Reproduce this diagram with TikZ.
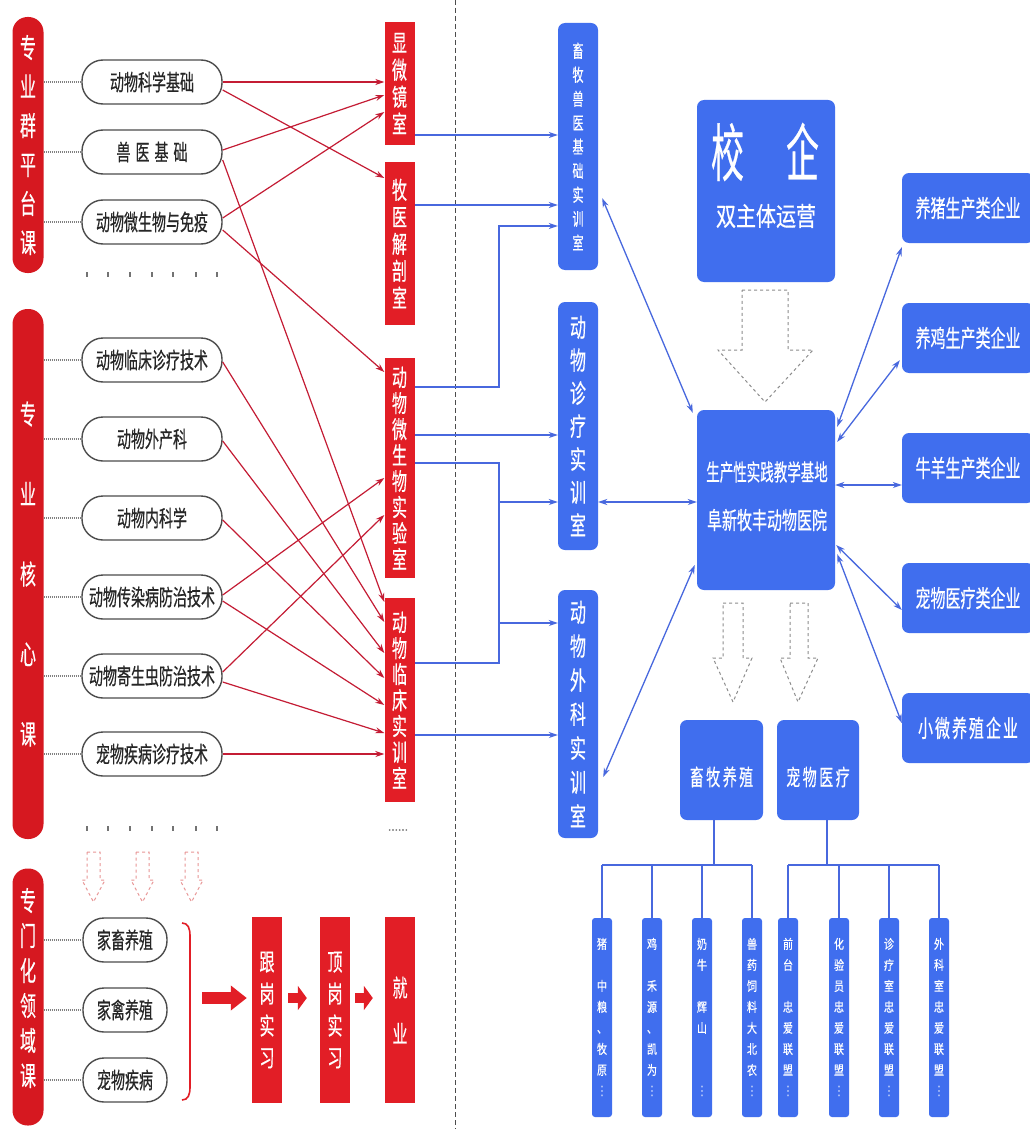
\documentclass[tikz,border=0pt]{standalone}
\usepackage{fontspec}
\usepackage{graphicx}
\setmainfont{Noto Sans CJK SC}[FakeBold=0.6]
\newfontfamily\dejavu{DejaVu Sans}
\usetikzlibrary{arrows.meta,calc}
\definecolor{pillred}{RGB}{214,24,32}
\definecolor{labred}{RGB}{226,30,38}
\definecolor{arrred}{RGB}{196,28,52}
\definecolor{boxblue}{RGB}{64,110,238}
\definecolor{lineblue}{RGB}{72,104,222}
\definecolor{pinkline}{RGB}{232,150,150}
\makeatletter
\def\vstretch{1.6}
\newcommand\stch[1]{\scalebox{1}[\vstretch]{#1}}
\newcommand\vdts{{\dejavu ⋮}}
\def\vt@gapmark{~}
\newcommand\vtext[1]{\def\vt@sep{}\@tfor\vt@c:=#1\do{\vt@sep\ifx\vt@c\vt@gapmark\mbox{}\else\stch{\vt@c}\fi\def\vt@sep{\\}}}
\makeatother
\begin{document}
\begin{tikzpicture}[x=1pt,y=-1pt,
 vt/.style n args={4}{font={\fontsize{#1}{#2}\selectfont\lineskiplimit=-100pt\def\vstretch{#4}}, align=center, text width=#3, inner sep=0pt},
 pill/.style={fill=pillred, rounded corners=15pt, minimum width=31pt, inner sep=0pt, text=white},
 course/.style={draw=black!70, line width=1.4pt, rounded corners=21pt, minimum height=44pt, inner sep=0pt, text=black!85, font=\fontsize{14}{16}\selectfont},
 lab/.style={fill=labred, minimum width=30pt, inner sep=0pt, text=white},
 bbox/.style={fill=boxblue, rounded corners=7pt, inner sep=0pt, text=white},
 leaf/.style={fill=boxblue, rounded corners=3pt, minimum width=20pt, minimum height=199pt, inner sep=0pt, text=white, vt={10}{21}{16pt}{1.3}},
 ent/.style={bbox, minimum width=132pt, minimum height=70pt, font=\fontsize{15}{18}\selectfont},
 txt/.style={inner sep=0pt},
 dotline/.style={draw=black!50, line width=1.8pt, dash pattern=on 1pt off 1pt},
 rarr/.style={draw=arrred, line width=1.2pt, -{Stealth[length=9pt,width=6pt]}},
 barr/.style={draw=lineblue, line width=1.3pt, -{Stealth[length=9pt,width=6pt]}},
 bline/.style={draw=lineblue, line width=1.3pt},
 bdarr/.style={draw=lineblue, line width=1.3pt, {Stealth[length=9pt,width=6pt]}-{Stealth[length=9pt,width=6pt]}},
 btree/.style={draw=lineblue, line width=2pt},
 hollow/.style={draw=black!45, dashed, line width=1pt},
 phollow/.style={draw=pinkline, dashed, line width=1pt},
]
\useasboundingbox (0,0) rectangle (1029,1129);
\fill[white] (0,0) rectangle (1029,1129);

% divider
\draw[black!70, line width=1pt, dash pattern=on 5pt off 3pt] (455,0) -- (455,1129);

% pills
\node[pill, minimum height=256pt, vt={16}{39}{28pt}{1.7}] (P1) at (28,145) {\vtext{专业群平台课}};
\node[pill, minimum height=530pt, vt={16}{80}{28pt}{1.7}] (P2) at (28,574) {\vtext{专业核心课}};
\node[pill, minimum height=257pt] (P3) at (28,997) {};
\node[txt, text=white, vt={16}{35}{28pt}{1.7}] (P3t) at (28,988) {\vtext{专门化领域课}};

% course boxes
\node[course, minimum width=140pt] (A1) at (152,82) {\stch{动物科学基础}};
\node[course, minimum width=140pt] (A2) at (152,152) {\stch{兽\hspace{5pt}医\hspace{5pt}基\hspace{5pt}础}};
\node[course, minimum width=140pt] (A3) at (152,222) {\stch{动物微生物与免疫}};
\node[course, minimum width=140pt] (B1) at (152,360) {\stch{动物临床诊疗技术}};
\node[course, minimum width=140pt] (B2) at (152,439) {\stch{动物外产科}};
\node[course, minimum width=140pt] (B3) at (152,518) {\stch{动物内科学}};
\node[course, minimum width=140pt] (B4) at (152,597) {\stch{动物传染病防治技术}};
\node[course, minimum width=140pt] (B5) at (152,676) {\stch{动物寄生虫防治技术}};
\node[course, minimum width=140pt] (B6) at (152,754) {\stch{宠物疾病诊疗技术}};
\node[course, minimum width=84pt] (C1) at (125,940) {\stch{家畜养殖}};
\node[course, minimum width=84pt] (C2) at (125,1010) {\stch{家禽养殖}};
\node[course, minimum width=84pt] (C3) at (125,1080) {\stch{宠物疾病}};

% dotted leaders
\foreach \n in {A1,A2,A3} \draw[dotline] (\n.west -| P1.east) -- (\n.west);
\foreach \n in {B1,B2,B3,B4,B5,B6} \draw[dotline] (\n.west -| P2.east) -- (\n.west);
\foreach \n in {C1,C2,C3} \draw[dotline] (\n.west -| P3.east) -- (\n.west);

% dot rows
\foreach \x in {87,108,130,152,173,196,217} {
  \fill[black!55] (\x-0.6,272) rectangle (\x+0.6,277);
  \fill[black!55] (\x-0.6,826) rectangle (\x+0.6,831);
}

% lab boxes
\node[lab, minimum height=123pt, vt={15}{27}{30pt}{1.6}] (R1) at (399.5,83.5) {\vtext{显微镜室}};
\node[lab, minimum height=163pt, vt={15}{27}{30pt}{1.6}] (R2) at (399.5,243.5) {\vtext{牧医解剖室}};
\node[lab, minimum height=220pt, vt={15}{26}{30pt}{1.6}] (R3) at (399.5,468) {\vtext{动物微生物实验室}};
\node[lab, minimum height=204pt, vt={15}{26}{30pt}{1.6}] (R4) at (399.5,700) {\vtext{动物临床实训室}};
\node[txt, text=black!55, font=\fontsize{12}{12}\selectfont] (more) at (398,830) {......};

% red arrows
\draw[rarr] (A1.east) -- (R1.west |- A1.east);
\draw[rarr] ($(A1.east)+(0,8)$) -- (R2.west |- 0,178);
\draw[rarr] ($(A2.east)+(0,-2)$) -- (R1.west |- 0,95);
\draw[rarr] ($(A2.east)+(0,8)$) -- (R4.west |- 0,602);
\draw[rarr] ($(A3.east)+(0,-4)$) -- (R1.west |- 0,112);
\draw[rarr] ($(A3.east)+(0,8)$) -- (R3.west |- 0,372);
\draw[rarr] ($(B1.east)+(0,2)$) -- (R4.west |- 0,622);
\draw[rarr] ($(B2.east)+(0,2)$) -- (R4.west |- 0,653);
\draw[rarr] ($(B3.east)+(0,2)$) -- (R4.west |- 0,678);
\draw[rarr] ($(B4.east)+(0,-2)$) -- (R3.west |- 0,478);
\draw[rarr] ($(B4.east)+(0,4)$) -- (R4.west |- 0,705);
\draw[rarr] ($(B5.east)+(0,-4)$) -- (R3.west |- 0,515);
\draw[rarr] ($(B5.east)+(0,6)$) -- (R4.west |- 0,733);
\draw[rarr] (B6.east) -- (R4.west |- B6.east);

% pink hollow arrows
\foreach \c in {93.5,142.5,191.5}
  \draw[phollow] (\c-6.5,852) -- (\c+6.5,852) -- (\c+6.5,880) -- (\c+11.5,880) -- (\c,902) -- (\c-11.5,880) -- (\c-6.5,880) -- cycle;

% bracket and practice chain
\coordinate (BR) at (202,998);
\draw[labred, line width=1.6pt] (182,923) .. controls (188,923) and (190,928) .. (190,936) -- (190,1087) .. controls (190,1095) and (188,1100) .. (182,1100);
\node[lab, minimum height=186pt, vt={15}{32}{30pt}{1.6}] (G1) at (267,1010) {\vtext{跟岗实习}};
\node[lab, minimum height=186pt, vt={15}{32}{30pt}{1.6}] (G2) at (335,1010) {\vtext{顶岗实习}};
\node[lab, minimum height=186pt, vt={15}{46}{30pt}{1.6}] (G3) at (400,1010) {\vtext{就业}};
\draw[draw=labred, line width=12pt, -{Triangle[length=16pt,width=24pt]}, shorten >=5pt] (BR) -- (G1.west |- BR);
\draw[draw=labred, line width=10pt, -{Triangle[length=9pt,width=24pt]}, shorten >=13pt] ($(G1.east |- BR)+(6,0)$) -- (G2.west |- BR);
\draw[draw=labred, line width=10pt, -{Triangle[length=9pt,width=24pt]}, shorten >=12pt] ($(G2.east |- BR)+(5,0)$) -- (G3.west |- BR);

% blue training rooms
\node[bbox, minimum width=40pt, minimum height=247pt, vt={11}{24}{30pt}{1.6}] (BL1) at (578,146.5) {\vtext{畜牧兽医基础实训室}};
\node[bbox, minimum width=40pt, minimum height=248pt, vt={16}{33}{30pt}{1.6}] (BL2) at (578,426) {\vtext{动物诊疗实训室}};
\node[bbox, minimum width=40pt, minimum height=248pt, vt={16}{34}{30pt}{1.6}] (BL3) at (578,714) {\vtext{动物外科实训室}};

% blue connectors from labs
\coordinate (J1) at (499,226);
\coordinate (J2) at (499,463);
\coordinate (J3) at (499,663);
\coordinate (J4) at (499,502);
\coordinate (J5) at (499,623);
\draw[barr] (R1.east |- 0,135) -- (BL1.west |- 0,135);
\draw[barr] (R2.east |- 0,205) -- (BL1.west |- 0,205);
\draw[barr] (R3.east |- 0,387) -| (J1) -- (BL1.west |- J1);
\draw[barr] (R3.east |- 0,435) -- (BL2.west |- 0,435);
\draw[bline] (R3.east |- J2) -- (J2) -- (J3) -- (R4.east |- J3);
\draw[barr] (J4) -- (BL2.west |- J4);
\draw[barr] (J5) -- (BL3.west |- J5);
\draw[barr] (R4.east |- 0,735) -- (BL3.west |- 0,735);

% center boxes
\node[bbox, minimum width=138pt, minimum height=182pt] (XQ) at (766,191) {};
\node[txt, text=white, font=\fontsize{33}{36}\selectfont] (XQt1) at (765,152) {\scalebox{1}[1.9]{校\hspace{42pt}企}};
\node[txt, text=white, font=\fontsize{20}{24}\selectfont] (XQt2) at (766,216) {\scalebox{1}[1.3]{双主体运营}};
\draw[hollow] (742,290) -- (788,290) -- (788,350) -- (813,350) -- (765,402) -- (718,350) -- (742,350) -- cycle;
\node[bbox, minimum width=138pt, minimum height=180pt] (CB) at (766,500) {};
\node[txt, text=white, font=\fontsize{13.5}{16}\selectfont] (CBt1) at (767,472) {\scalebox{1}[1.7]{生产性实践教学基地}};
\node[txt, text=white, font=\fontsize{15}{18}\selectfont] (CBt2) at (767,520) {\scalebox{1}[1.6]{阜新牧丰动物医院}};

% enterprises
\node[ent] (E1) at (968,208) {\stch{养猪生产类企业}};
\node[ent] (E2) at (968,338) {\stch{养鸡生产类企业}};
\node[ent] (E3) at (968,468) {\stch{牛羊生产类企业}};
\node[ent] (E4) at (968,598) {\stch{宠物医疗类企业}};
\node[ent] (E5) at (968,728) {\stch{小\hspace{2pt}微\hspace{2pt}养\hspace{2pt}殖\hspace{2pt}企\hspace{2pt}业}};

% bidirectional links
\draw[bdarr] ($(BL1.south east)+(4,-72)$) -- ($(CB.north west)+(-4,3)$);
\draw[bdarr] (BL2.east |- J4) -- (CB.west |- J4);
\draw[bdarr] ($(BL3.east)+(5,63)$) -- ($(CB.west)+(-2,65)$);
\draw[bdarr] ($(CB.north east)+(2,17)$) -- ($(E1.south west)+(0,4)$);
\draw[bdarr] ($(CB.north east)+(2,32)$) -- ($(E2.south west)+(-2,-13)$);
\draw[bdarr] (CB.east |- 0,485) -- (E3.west |- 0,485);
\draw[bdarr] ($(CB.east)+(1,45)$) -- ($(E4.west)+(0,12)$);
\draw[bdarr] ($(CB.south east)+(2,-36)$) -- ($(E5.west)+(0,-5)$);

% lower hollow arrows
\draw[hollow] (723,603) -- (743,603) -- (743,658) -- (752,658) -- (733,702) -- (713,658) -- (723,658) -- cycle;
\draw[hollow] (790,603) -- (808,603) -- (808,658) -- (818,658) -- (798,702) -- (780,658) -- (790,658) -- cycle;

% category boxes
\node[bbox, minimum width=83pt, minimum height=100pt] (XM) at (721.5,770) {};
\node[txt, text=white, font=\fontsize{14}{16}\selectfont] (XMt) at (721.5,777) {\stch{畜\hspace{2.5pt}牧\hspace{2.5pt}养\hspace{2.5pt}殖}};
\node[bbox, minimum width=82pt, minimum height=100pt] (CW) at (818,770) {};
\node[txt, text=white, font=\fontsize{14}{16}\selectfont] (CWt) at (818,777) {\stch{宠\hspace{2.5pt}物\hspace{2.5pt}医\hspace{2.5pt}疗}};

% leaves
\node[leaf] (L1) at (602,1017.5) {\vtext{猪~中粮、牧原\vdts}};
\node[leaf] (L2) at (652,1017.5) {\vtext{鸡~禾源、凯为\vdts}};
\node[leaf] (L3) at (702,1017.5) {\vtext{奶牛~辉山~~\vdts}};
\node[leaf] (L4) at (752,1017.5) {\vtext{兽药饲料大北农\vdts}};
\node[leaf] (L5) at (788,1017.5) {\vtext{前台~忠爱联盟\vdts}};
\node[leaf] (L6) at (839,1017.5) {\vtext{化验员忠爱联盟\vdts}};
\node[leaf] (L7) at (889,1017.5) {\vtext{诊疗室忠爱联盟\vdts}};
\node[leaf] (L8) at (939,1017.5) {\vtext{外科室忠爱联盟\vdts}};

% trees
\coordinate (T1) at ($(XM.south)+(-8,45)$);
\coordinate (T2) at ($(CW.south)+(9,45)$);
\draw[btree] ($(XM.south)+(-8,0)$) -- (T1);
\draw[btree] ($(CW.south)+(9,0)$) -- (T2);
\draw[btree] (L1.north |- T1) -- (L4.north |- T1);
\draw[btree] (L5.north |- T2) -- (L8.north |- T2);
\foreach \n in {L1,L2,L3,L4} \draw[btree] (\n.north |- T1) -- (\n.north);
\foreach \n in {L5,L6,L7,L8} \draw[btree] (\n.north |- T2) -- (\n.north);
\end{tikzpicture}
\end{document}
